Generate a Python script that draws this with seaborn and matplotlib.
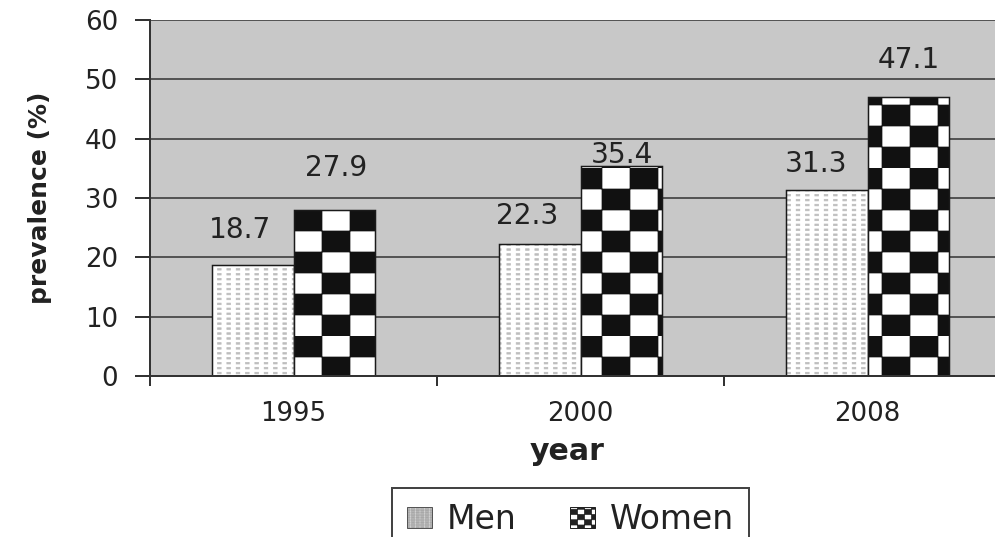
import numpy as np
import pandas as pd
import matplotlib
matplotlib.use('Agg')
import matplotlib.pyplot as plt
import matplotlib.hatch as mhatch
from matplotlib.path import Path
from matplotlib.patches import Patch
from matplotlib.colors import to_rgba
import seaborn as sns

# ---------------- data ----------------
years = ['1995', '2000', '2008']
men = [18.7, 22.3, 31.3]
women = [27.9, 35.4, 47.1]
groups = ['Men', 'Women']
yticks = [0, 10, 20, 30, 40, 50, 60]

DPI = 168
PX = 72.0 / DPI  # points per pixel


def _rects(vertices, codes, rects):
    """Write axis-aligned rectangles (x0, y0, w, h) in unit-tile coords."""
    for i, (x0, y0, w, h) in enumerate(rects):
        vertices[5 * i:5 * i + 5] = [(x0, y0), (x0 + w, y0), (x0 + w, y0 + h),
                                     (x0, y0 + h), (x0, y0)]
        codes[5 * i:5 * i + 5] = [Path.MOVETO, Path.LINETO, Path.LINETO,
                                  Path.LINETO, Path.CLOSEPOLY]


def _wrap(x0, y0, w, h):
    """Split a rectangle that crosses the right edge of the unit tile."""
    if x0 + w <= 1.0 + 1e-9:
        return [(x0, y0, w, h)]
    return [(x0, y0, 1.0 - x0, h), (0.0, y0, x0 + w - 1.0, h)]


# ---------------- checkerboard hatch (selected by 'O') ----------------
class CheckerHatch(mhatch.HatchPatternBase):
    def __init__(self, hatch, density):
        k = hatch.count('O')
        self.rects = []
        if k:
            ncols, nrows = 6 * k, 8 * k
            w, h = 1.0 / ncols, 1.0 / nrows
            for r in range(nrows):
                for c in range(ncols):
                    if (r + c) % 2 == 1:
                        self.rects += _wrap(c * w + w / 2, r * h, w, h)
        self.num_vertices = 5 * len(self.rects)

    def set_vertices_and_codes(self, vertices, codes):
        _rects(vertices, codes, self.rects)


# ---------------- regular dot-grid hatch (selected by '.') ----------------
class DotGridHatch(mhatch.HatchPatternBase):
    def __init__(self, hatch, density):
        k = hatch.count('.')
        self.rects = []
        if k:
            ncols, nrows = 18 * k, 34 * k
            cw, rh = 1.0 / ncols, 1.0 / nrows
            dw, dh = 3.6 / 168, 1.6 / 168
            for r in range(nrows):
                for c in range(ncols):
                    self.rects.append((c * cw + (cw - dw) / 2, r * rh + (rh - dh) / 2, dw, dh))
        self.num_vertices = 5 * len(self.rects)

    def set_vertices_and_codes(self, vertices, codes):
        _rects(vertices, codes, self.rects)


_swap = {mhatch.LargeCircles: CheckerHatch, mhatch.SmallFilledCircles: DotGridHatch}
mhatch._hatch_types = [_swap.get(t, t) for t in mhatch._hatch_types]

df = pd.DataFrame({
    'year': years * 2,
    'prevalence': men + women,
    'sex': ['Men'] * len(men) + ['Women'] * len(women),
})

plt.rcParams['font.family'] = ['DejaVu Sans']
plt.rcParams['hatch.linewidth'] = 0.3

fig = plt.figure(figsize=(995 / DPI, 537 / DPI), dpi=DPI)
ax = fig.add_axes([150 / 995, 1 - 376 / 537, 861 / 995, 356 / 537])

sns.barplot(data=df, x='year', y='prevalence', hue='sex', order=years, hue_order=groups,
            palette={'Men': 'white', 'Women': 'white'}, saturation=1, width=0.57,
            edgecolor='#1a1a1a', linewidth=1.5 * PX, legend=False, ax=ax)

for cont, hatch, hc in zip(ax.containers, ['.', 'O'], ['#bdbdbd', '#111111']):
    for bar in cont:
        bar.set_hatch(hatch)
        bar._hatch_color = to_rgba(hc)

# value labels (offsets in px relative to bar top centre)
label_offsets = [[(-13, 35), (-12, 28), (-11, 26)], [(2, 42), (1, 11), (0, 37)]]
for cont, offs, vals in zip(ax.containers, label_offsets, [men, women]):
    for bar, (dx, dy), v in zip(cont, offs, vals):
        ax.annotate(f'{v:.1f}', xy=(bar.get_x() + bar.get_width() / 2, bar.get_height()),
                    xytext=(dx * PX, dy * PX), textcoords='offset points',
                    ha='center', va='center', fontsize=28 * PX, color='#222222')

ax.set_facecolor('#c8c8c8')
ax.set_ylim(0, 60)
ax.set_xlim(-0.5, 2.5)
ax.set_yticks(yticks)
ax.grid(axis='y', color='#555555', linewidth=2 * PX)
ax.grid(axis='x', visible=False)
ax.set_axisbelow(True)
for s in ['top', 'right']:
    ax.spines[s].set_visible(False)
ax.spines['left'].set(color='#333333', linewidth=2 * PX)
ax.spines['bottom'].set(color='#333333', linewidth=2 * PX)

ax.tick_params(axis='y', length=15 * PX, width=2 * PX, color='#333333', pad=17 * PX,
               labelsize=26 * PX, labelcolor='#222222')
ax.tick_params(axis='x', which='major', length=0, pad=25 * PX,
               labelsize=26 * PX, labelcolor='#222222')
ax.set_xticks([-0.5, 0.5, 1.5, 2.5], minor=True)
ax.tick_params(axis='x', which='minor', length=10 * PX, width=2 * PX, color='#333333',
               direction='out')

ax.set_ylabel('prevalence (%)', fontsize=25 * PX, fontweight='bold', color='#222222',
              labelpad=33 * PX)
ax.set_xlabel('year', fontsize=30 * PX, fontweight='bold', color='#222222', va='baseline')
ax.xaxis.set_label_coords(0.484, -(460 - 376) / 356)

# legend
h_men = Patch(facecolor='white', edgecolor='#555555', hatch='..', linewidth=1 * PX)
h_men._hatch_color = to_rgba('#a8a8a8')
h_women = Patch(facecolor='white', edgecolor='#222222', hatch='OOOO', linewidth=1 * PX)
leg = fig.legend(handles=[h_men, h_women], labels=groups, ncol=2, loc='upper left',
                 bbox_to_anchor=(392 / 995, 0, 357 / 995, 1 - 488 / 537), mode='expand',
                 borderaxespad=0, frameon=True, fancybox=False, framealpha=1,
                 edgecolor='#444444', fontsize=33 * PX, handlelength=0.75,
                 handleheight=0.6, handletextpad=0.45, columnspacing=0.8, borderpad=0.45)
leg.get_frame().set_linewidth(2 * PX)
for t in leg.get_texts():
    t.set_color('#222222')

fig.savefig('out.png', dpi=DPI)
